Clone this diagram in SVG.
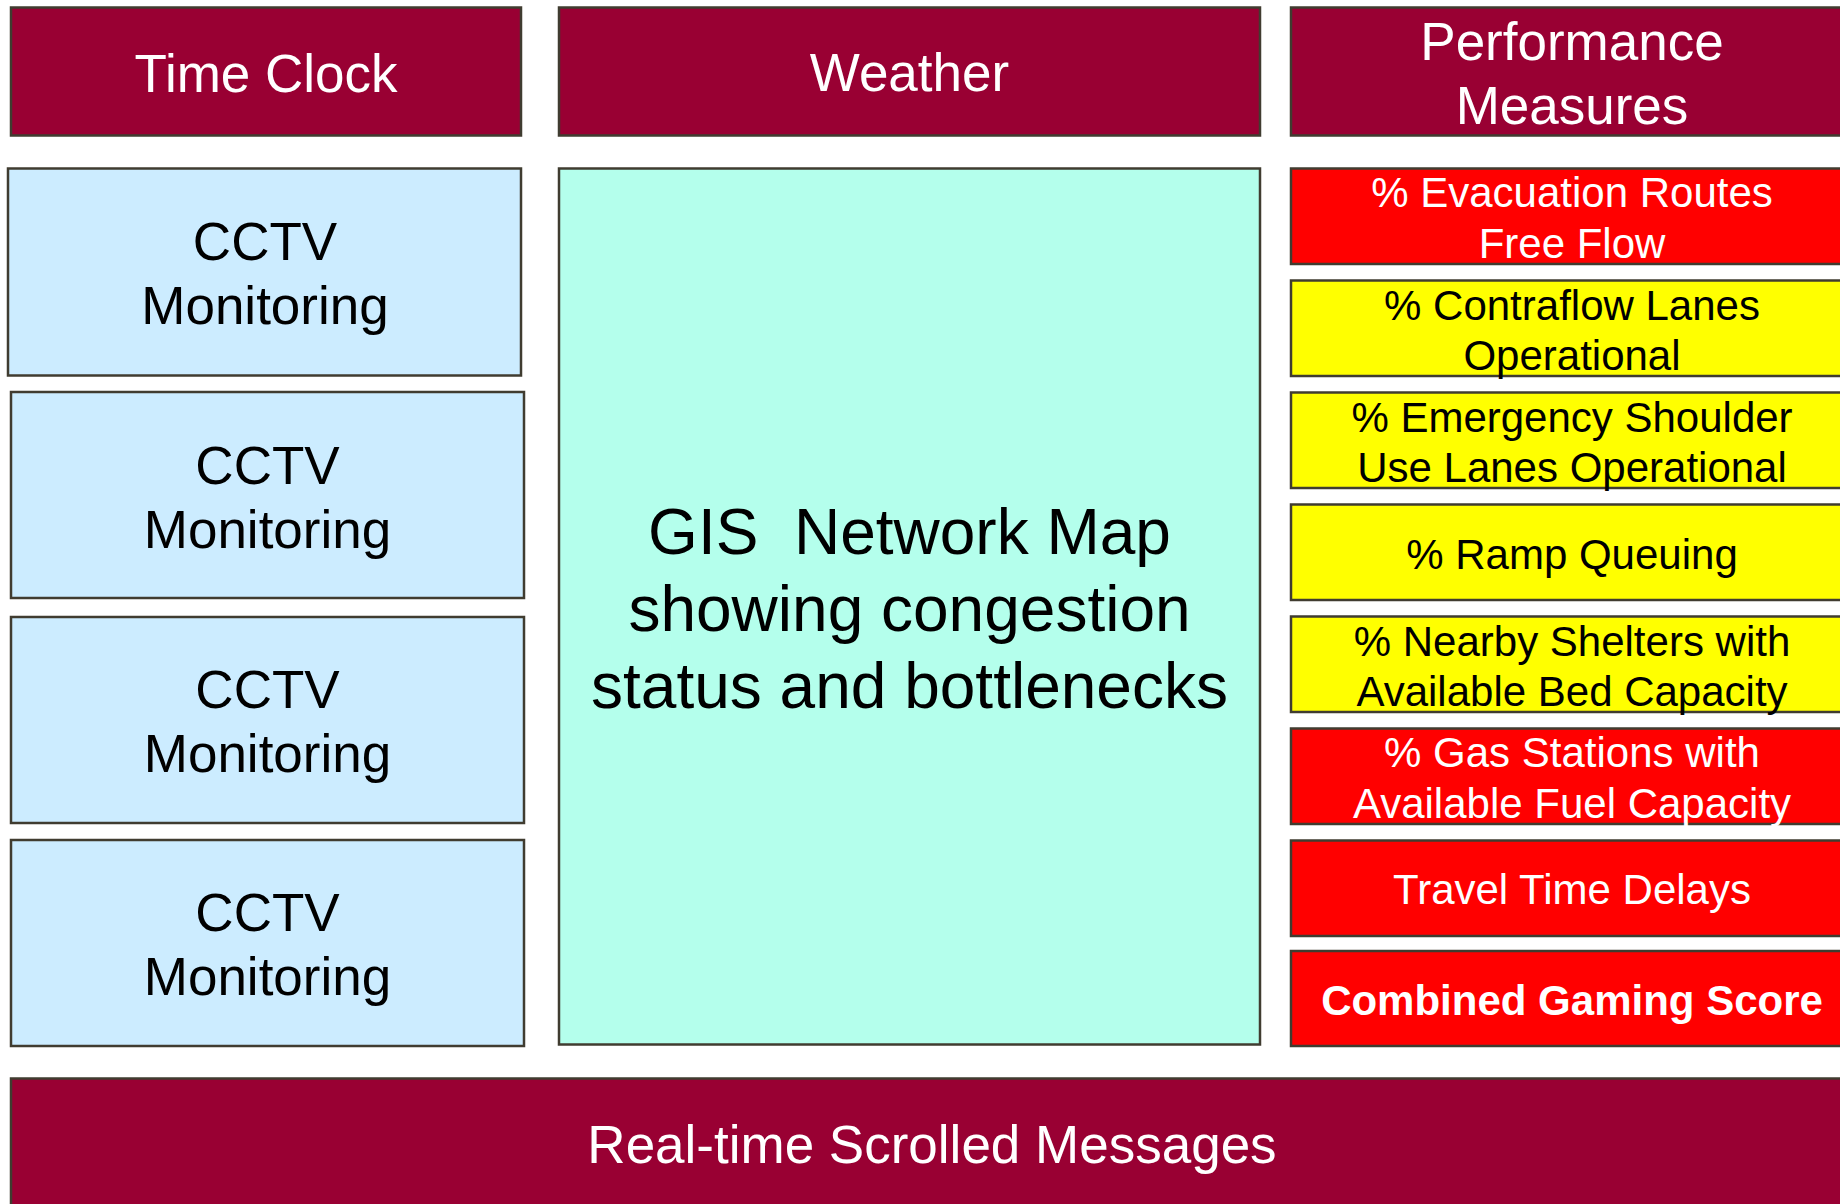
<svg xmlns="http://www.w3.org/2000/svg" width="1840" height="1204" viewBox="0 0 1840 1204">
<style>
rect{stroke:#403c30;stroke-width:2.5}
.hdr{fill:#990033}
.cctv{fill:#CCECFF}
.gis{fill:#B4FFEC}
.red{fill:#FF0000}
.yel{fill:#FFFF00}
text{font-family:"Liberation Sans",Arial,sans-serif;text-anchor:middle}
.w{fill:#FFFFFF}
.k{fill:#000000}
.f53{font-size:53px}
.f64{font-size:64px}
.f42{font-size:42px}
.b{font-weight:bold}
</style>
<rect x="0" y="0" width="1840" height="1204" fill="#FFFFFF" style="stroke:none"/>
<g id="time-clock">
<rect class="hdr" x="11" y="7.5" width="510" height="128"/>
<text class="w f53" x="266" y="92">Time Clock</text>
</g>
<g id="weather">
<rect class="hdr" x="559" y="7.5" width="701" height="128"/>
<text class="w f53" x="909.5" y="91">Weather</text>
</g>
<g id="performance-measures">
<rect class="hdr" x="1291" y="7.5" width="562" height="128"/>
<text class="w f53" x="1572" y="59.5">Performance</text>
<text class="w f53" x="1572" y="123.5">Measures</text>
</g>
<g id="cctv-1">
<rect class="cctv" x="8" y="168.5" width="513" height="207"/>
<text class="k f53" x="265" y="260">CCTV</text>
<text class="k f53" x="265" y="324">Monitoring</text>
</g>
<g id="cctv-2">
<rect class="cctv" x="11" y="392" width="513" height="206"/>
<text class="k f53" x="267.5" y="483.5">CCTV</text>
<text class="k f53" x="267.5" y="547.5">Monitoring</text>
</g>
<g id="cctv-3">
<rect class="cctv" x="11" y="617" width="513" height="206"/>
<text class="k f53" x="267.5" y="708">CCTV</text>
<text class="k f53" x="267.5" y="772">Monitoring</text>
</g>
<g id="cctv-4">
<rect class="cctv" x="11" y="840" width="513" height="206"/>
<text class="k f53" x="267.5" y="931">CCTV</text>
<text class="k f53" x="267.5" y="995">Monitoring</text>
</g>
<g id="gis-map">
<rect class="gis" x="559" y="168.5" width="701" height="876"/>
<text class="k f64" x="909.5" y="554">GIS&#160; Network Map</text>
<text class="k f64" x="909.5" y="631">showing congestion</text>
<text class="k f64" x="909.5" y="708">status and bottlenecks</text>
</g>
<g id="pm-evacuation-routes">
<rect class="red" x="1291" y="168.5" width="562" height="95.5"/>
<text class="w f42" x="1572" y="207">% Evacuation Routes</text>
<text class="w f42" x="1572" y="257.5">Free Flow</text>
</g>
<g id="pm-contraflow">
<rect class="yel" x="1291" y="280.5" width="562" height="95.5"/>
<text class="k f42" x="1572" y="320">% Contraflow Lanes</text>
<text class="k f42" x="1572" y="370">Operational</text>
</g>
<g id="pm-shoulder">
<rect class="yel" x="1291" y="392.5" width="562" height="95.5"/>
<text class="k f42" x="1572" y="431.5">% Emergency Shoulder</text>
<text class="k f42" x="1572" y="481.5">Use Lanes Operational</text>
</g>
<g id="pm-ramp">
<rect class="yel" x="1291" y="504.5" width="562" height="95.5"/>
<text class="k f42" x="1572" y="568.5">% Ramp Queuing</text>
</g>
<g id="pm-shelters">
<rect class="yel" x="1291" y="616.5" width="562" height="95.5"/>
<text class="k f42" x="1572" y="656">% Nearby Shelters with</text>
<text class="k f42" x="1572" y="706">Available Bed Capacity</text>
</g>
<g id="pm-gas">
<rect class="red" x="1291" y="728.5" width="562" height="95.5"/>
<text class="w f42" x="1572" y="767">% Gas Stations with</text>
<text class="w f42" x="1572" y="818">Available Fuel Capacity</text>
</g>
<g id="pm-travel-time">
<rect class="red" x="1291" y="840.5" width="562" height="95.5"/>
<text class="w f42" x="1572" y="904">Travel Time Delays</text>
</g>
<g id="pm-combined">
<rect class="red" x="1291" y="951" width="562" height="95"/>
<text class="w f42 b" x="1572" y="1015">Combined Gaming Score</text>
</g>
<g id="scrolled-messages">
<rect class="hdr" x="11" y="1078.5" width="1842" height="140"/>
<text class="w f53" x="932" y="1163">Real-time Scrolled Messages</text>
</g>
<g id="connectors"></g>
</svg>
